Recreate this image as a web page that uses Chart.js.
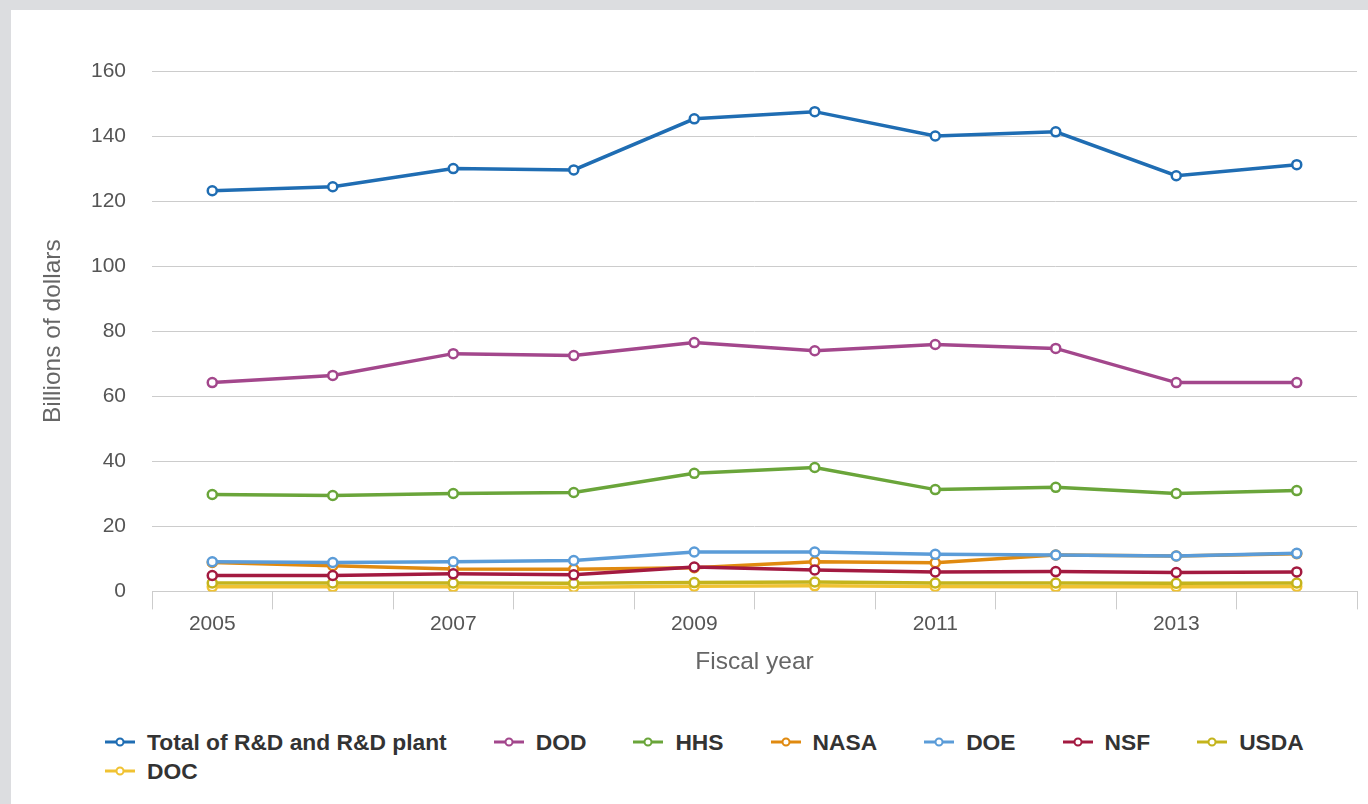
<!DOCTYPE html>
<html>
<head>
<meta charset="utf-8">
<script src="https://cdn.jsdelivr.net/npm/chart.js@4"></script>
<style>
  html, body { margin: 0; padding: 0; }
  body { background: #dcdde0; width: 1368px; height: 804px; overflow: hidden; position: relative; font-family: "Liberation Sans", Arial, sans-serif; }
  #panel { position: absolute; left: 11px; top: 10px; width: 1357px; height: 794px; background: #fff; }
  #wrap { position: absolute; left: 0; top: 0; width: 1357px; height: 680px; }
  #legend { position: absolute; left: 94px; top: 719px; width: 1200px; display: flex; flex-wrap: wrap; column-gap: 47px; row-gap: 3px; }
  .item { display: flex; align-items: center; height: 26px; font-weight: bold; font-size: 22.8px; color: #333; white-space: nowrap; }
  .item svg { margin-right: 12px; }
</style>
</head>
<body>
<div id="panel">
  <div id="wrap"><canvas id="rdChart"></canvas></div>
  <div id="legend"></div>
</div>
<script>
// Años fiscales y gasto federal en I+D por agencia (miles de millones de dólares)
const years = ['2005', '2006', '2007', '2008', '2009', '2010', '2011', '2012', '2013', '2014'];
const total = [123.2, 124.4, 130.0, 129.6, 145.3, 147.5, 140.0, 141.3, 127.8, 131.2];
const dod   = [64.2, 66.4, 73.1, 72.5, 76.5, 74.0, 75.9, 74.7, 64.2, 64.2];
const hhs   = [29.8, 29.5, 30.1, 30.4, 36.3, 38.1, 31.3, 32.0, 30.1, 31.0];
const nasa  = [8.9, 7.9, 6.9, 6.8, 7.3, 9.1, 8.8, 11.2, 10.9, 11.6];
const doe   = [9.1, 8.9, 9.1, 9.5, 12.1, 12.1, 11.4, 11.2, 10.9, 11.7];
const nsf   = [4.9, 4.9, 5.4, 5.1, 7.5, 6.6, 6.0, 6.1, 5.8, 6.0];
const usda  = [2.6, 2.6, 2.6, 2.5, 2.7, 2.9, 2.6, 2.6, 2.5, 2.6];
const doc   = [1.4, 1.4, 1.4, 1.3, 1.6, 1.7, 1.5, 1.4, 1.4, 1.5];

const seriesNames = ['Total of R&D and R&D plant', 'DOD', 'HHS', 'NASA', 'DOE', 'NSF', 'USDA', 'DOC'];
const seriesData = [total, dod, hhs, nasa, doe, nsf, usda, doc];
const seriesColors = ['#1f6db3', '#a3478c', '#6aa53a', '#e08a10', '#5b9cd8', '#a31a40', '#c4b41c', '#f0c232'];
// orden de dibujo: el valor menor queda encima
const drawOrder = [0, 1, 2, 5, 3, 4, 6, 7];

const datasets = [];
for (let i = 0; i < seriesNames.length; i++) {
  datasets.push({
    label: seriesNames[i],
    data: seriesData[i],
    borderColor: seriesColors[i],
    backgroundColor: seriesColors[i],
    borderWidth: 3.5,
    pointRadius: 4.5,
    pointBorderWidth: 2.5,
    pointBackgroundColor: '#ffffff',
    pointBorderColor: seriesColors[i],
    tension: 0,
    order: drawOrder[i]
  });
}

const ctx = document.getElementById('rdChart');

new Chart(ctx, {
  type: 'line',
  data: { labels: years, datasets: datasets },
  options: {
    responsive: true,
    maintainAspectRatio: false,
    animation: false,
    layout: { padding: { left: 28, right: 11, top: 61, bottom: 13 } },
    plugins: {
      legend: { display: false },
      tooltip: { enabled: false }
    },
    scales: {
      x: {
        offset: true,
        grid: { offset: true, drawOnChartArea: false, drawTicks: true, tickLength: 18, color: '#cccccc' },
        border: { color: '#cccccc' },
        ticks: {
          autoSkip: false,
          maxRotation: 0,
          padding: 2,
          color: '#555555',
          font: { family: 'Liberation Sans', size: 21 },
          callback: function(value, index) {
            return index % 2 === 0 ? this.getLabelForValue(value) : '';
          }
        },
        title: { display: true, text: 'Fiscal year', color: '#666666', padding: { top: 9, bottom: 0 }, font: { family: 'Liberation Sans', size: 24.5 } }
      },
      y: {
        min: 0,
        max: 160,
        grid: { drawTicks: false, color: '#cccccc' },
        border: { display: false },
        ticks: {
          stepSize: 20,
          padding: 26,
          color: '#555555',
          font: { family: 'Liberation Sans', size: 21 }
        },
        title: { display: true, text: 'Billions of dollars', color: '#666666', padding: 0, font: { family: 'Liberation Sans', size: 24.5 } },
        afterFit: function(scale) { scale.width = 113; }
      }
    }
  }
});

// Leyenda en HTML: línea con marcador circular y el nombre de la serie
const legend = document.getElementById('legend');
for (let i = 0; i < seriesNames.length; i++) {
  const item = document.createElement('div');
  item.className = 'item';
  item.innerHTML =
    '<svg width="30" height="12" viewBox="0 0 30 12">' +
    '<line x1="0" y1="6" x2="30" y2="6" stroke="' + seriesColors[i] + '" stroke-width="3"/>' +
    '<circle cx="15" cy="6" r="3.5" fill="#fff" stroke="' + seriesColors[i] + '" stroke-width="2"/>' +
    '</svg>';
  const span = document.createElement('span');
  span.textContent = seriesNames[i];
  item.appendChild(span);
  legend.appendChild(item);
}
</script>
</body>
</html>
